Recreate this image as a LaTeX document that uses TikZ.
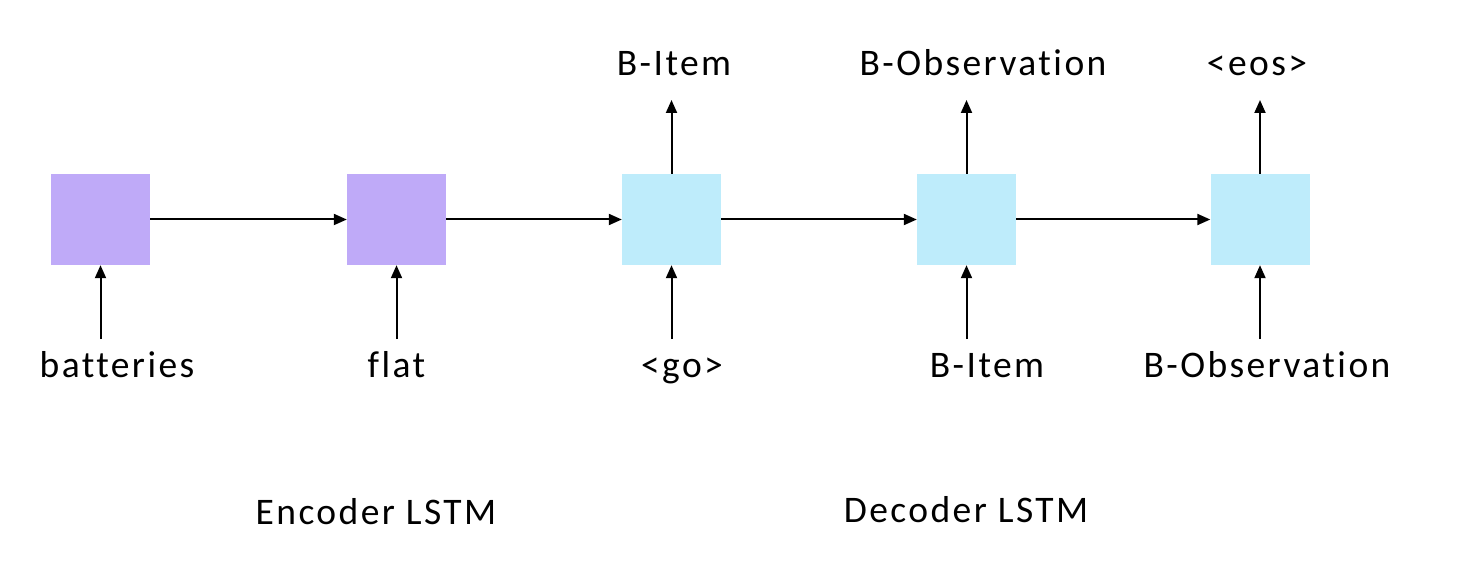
\documentclass[tikz,border=0pt]{standalone}
\usepackage{fontspec}
\setmainfont{Carlito}[LetterSpace=6.5,Ligatures=NoCommon]
\usetikzlibrary{arrows.meta}
\definecolor{enc}{HTML}{BFAAF8}
\definecolor{dec}{HTML}{BEECFB}
\tikzset{
  cell/.style={minimum width=99pt,minimum height=91pt,inner sep=0pt,draw=none},
  lbl/.style={font=\fontsize{37.5}{42}\selectfont,inner sep=0pt,anchor=base},
  conn/.style={line width=2pt,-{Triangle[length=13pt,width=11pt]}},
}
\begin{document}
\begin{tikzpicture}[x=1pt,y=-1pt]
\useasboundingbox (0,0) rectangle (1457,572);
\node[cell,fill=enc] (c1) at (100.5,219.5) {};
\node[cell,fill=enc] (c2) at (396.5,219.5) {};
\node[cell,fill=dec] (c3) at (671.5,219.5) {};
\node[cell,fill=dec] (c4) at (966.5,219.5) {};
\node[cell,fill=dec] (c5) at (1260,219.5) {};
% input labels
\node[lbl] (i1) at (117,377) {batteries};
\node[lbl] (i2) at (396.5,377) {flat};
\node[lbl] (i3) at (682,377) {<go>};
\node[lbl] (i4) at (987,377) {B-Item};
\node[lbl] (i5) at (1267,377) {B-Observation};
% output labels
\node[lbl] (o3) at (674,76) {B-Item};
\node[lbl] (o4) at (983,76) {B-Observation};
\node[lbl] (o5) at (1257,76) {<eos>};
% group labels
\node[lbl] (enc) at (376,524) {Encoder LSTM};
\node[lbl] (dec) at (966,522) {Decoder LSTM};
% input arrow tails
\coordinate (t1) at (100.5,339);
\coordinate (t2) at (396.5,339);
\coordinate (t3) at (671.5,339);
\coordinate (t4) at (966.5,339);
\coordinate (t5) at (1260,339);
% output arrow heads
\coordinate (h3) at (671.5,100);
\coordinate (h4) at (966.5,100);
\coordinate (h5) at (1260,100);
\foreach \i in {1,...,5} {\draw[conn] (t\i) -- (c\i.south);}
\foreach \i in {3,4,5} {\draw[conn] (c\i.north) -- (h\i);}
\draw[conn] (c1.east) -- (c2.west);
\draw[conn] (c2.east) -- (c3.west);
\draw[conn] (c3.east) -- (c4.west);
\draw[conn] (c4.east) -- (c5.west);
\end{tikzpicture}
\end{document}
